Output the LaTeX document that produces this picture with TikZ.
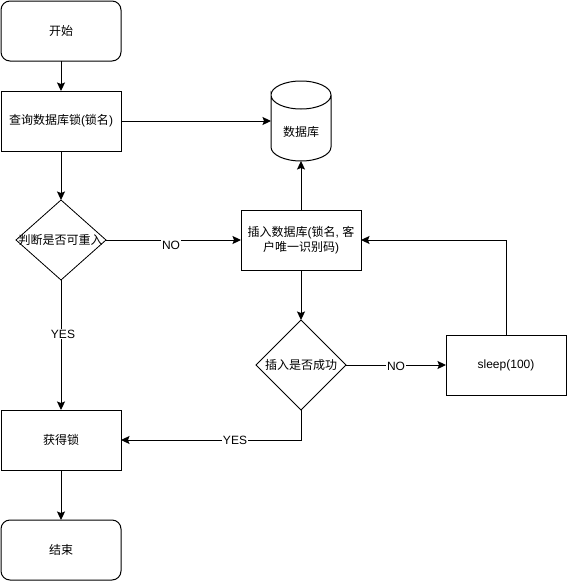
\documentclass[tikz,border=0pt]{standalone}
\usepackage{fontspec}
\setmainfont{Liberation Sans}
\newfontfamily\cjk{Noto Sans CJK SC}
\newcommand{\zh}[1]{{\cjk #1}}
\usetikzlibrary{arrows.meta,shapes.geometric,positioning}
\tikzset{
  x=1pt,y=-1pt,
  every node/.style={font=\fontsize{12}{15}\selectfont,inner sep=0pt,outer sep=0pt,align=center},
  boxn/.style={draw,line width=1pt,minimum width=120pt,minimum height=60pt},
  roundn/.style={boxn,rounded corners=9pt},
  dec/.style={draw,line width=.8pt,diamond,aspect=1,minimum width=90pt,minimum height=90pt},
  dbn/.style={minimum width=60pt,minimum height=80pt},
  link/.style={draw,line width=1pt,-{Stealth[length=8.5pt,width=8pt,inset=1.5pt]}},
  lab/.style={fill=white,inner sep=1pt,font=\fontsize{12}{14}\selectfont}
}
\begin{document}
\begin{tikzpicture}
\useasboundingbox (0,0) rectangle (566,581);
\node[roundn] (start) at (61,31) {\zh{开始}};
\node[boxn] (query) at (61,121) {\zh{查询数据库锁}(\zh{锁名})};
\node[dbn] (db) at (301,121) {};
\draw[line width=1pt] (271,95) arc[start angle=180,end angle=360,x radius=30,y radius=14]
  arc[start angle=0,end angle=180,x radius=30,y radius=14] -- (271,147)
  arc[start angle=180,end angle=0,x radius=30,y radius=14] -- (331,95);
\node at (301,132) {\zh{数据库}};
\node[dec,minimum height=80pt] (reent) at (61,240) {};
\node at (60.5,240) {\zh{判断是否可重入}};
\node[boxn] (insert) at (301,240) {\zh{插入数据库}(\zh{锁名}, \zh{客}\\[0pt]\zh{户唯一识别码})};
\node[dec] (ok) at (301,365) {};
\node at (301,365) {\zh{插入是否成功}};
\node[boxn] (sleep) at (506,365) {sleep(100)};
\node[boxn] (lock) at (61,440) {\zh{获得锁}};
\node[roundn] (end) at (61,550) {\zh{结束}};

\draw[link] (start) -- (query);
\draw[link] (query) -- (db);
\draw[link] (query) -- (reent);
\draw[link] (reent) -- (insert);
\draw[link] (insert) -- (db);
\draw[link] (reent) -- (lock);
\draw[link] (insert) -- (ok);
\draw[link] (ok) -- (sleep);
\draw[link] (sleep.north) |- (insert.east);
\draw[link] (ok.south) |- (lock.east);
\draw[link] (lock) -- (end);
\node[lab] (no1) at (171,245) {NO};
\node[lab] (yes1) at (63,334) {YES};
\node[lab] (no2) at (396,366) {NO};
\node[lab] (yes2) at (235,440) {YES};
\end{tikzpicture}
\end{document}
